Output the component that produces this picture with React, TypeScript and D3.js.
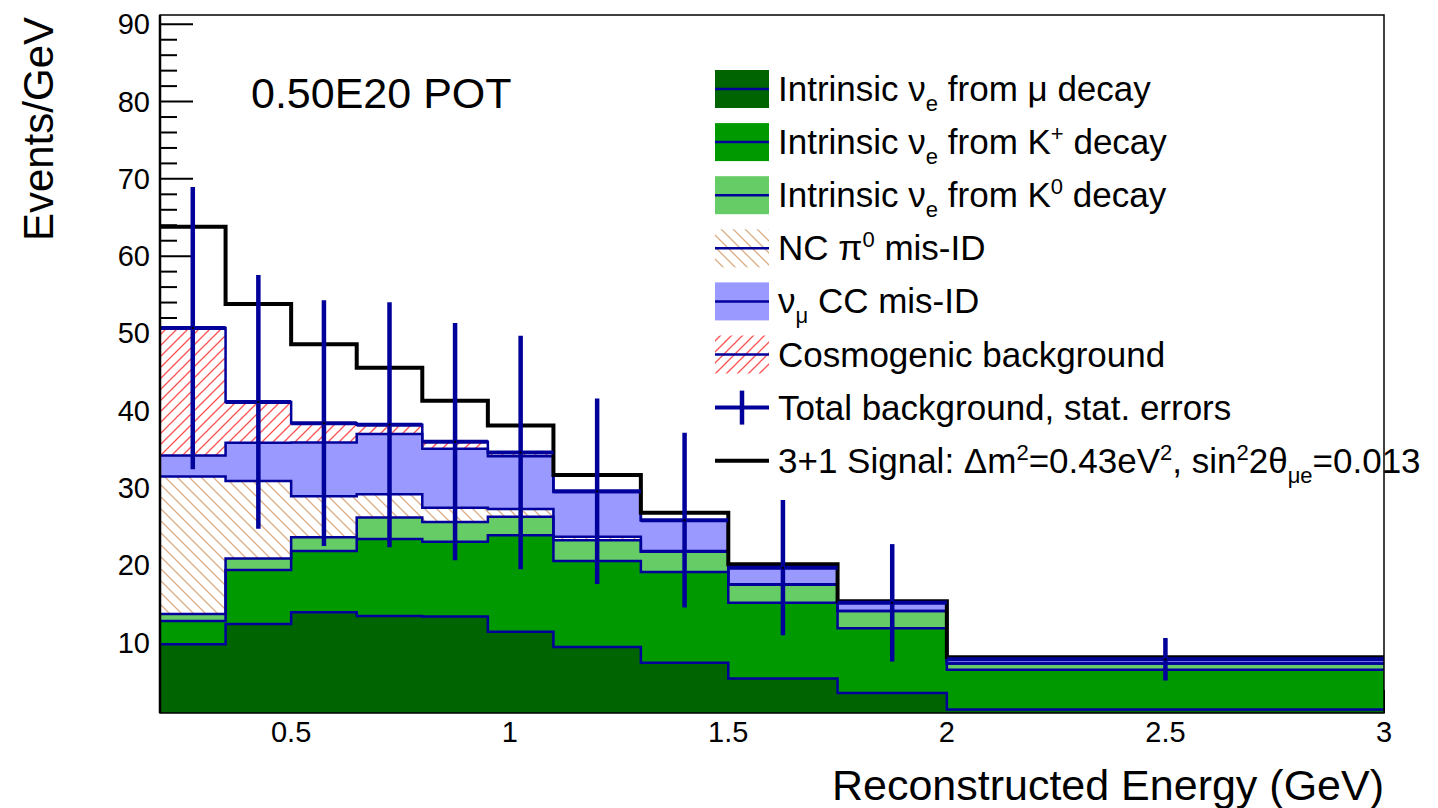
import * as d3 from "d3";

// bin edges in GeV and per-component rates (events/GeV)
const binEdges = [0.2, 0.35, 0.5, 0.65, 0.8, 0.95, 1.1, 1.3, 1.5, 1.75, 2.0, 3.0];
const muDecay = [9.8, 12.4, 13.95, 13.45, 13.4, 11.4, 9.45, 7.4, 5.35, 3.5, 1.35];
const kPlusDecay = [3.0, 7.0, 7.9, 9.95, 9.65, 12.5, 11.1, 11.75, 9.8, 8.35, 5.15];
const kZeroDecay = [0.9, 1.5, 1.8, 2.8, 2.55, 2.4, 2.7, 2.6, 2.35, 2.25, 0.8];
const ncPi0 = [17.8, 10.0, 5.3, 3.0, 1.85, 1.0, 0.45, 0.1, 0.05, 0, 0];
const numuCC = [2.7, 4.95, 6.95, 7.8, 7.65, 6.8, 5.8, 4.0, 2.15, 1.05, 0.55];
const cosmogenic = [16.5, 5.3, 2.5, 1.2, 0.9, 0.5, 0.1, 0, 0, 0, 0];
const signalTotal = [63.8, 53.8, 48.6, 45.55, 41.3, 38.1, 31.7, 26.8, 20.15, 15.35, 8.1];
const statErrors = [18.25, 16.4, 15.9, 15.85, 15.35, 15.1, 12.0, 11.3, 8.75, 7.6, 2.75];

const xTicks = [0.5, 1, 1.5, 2, 2.5, 3];
const yTicks = [10, 20, 30, 40, 50, 60, 70, 80, 90];

const layers = [
  { key: "mu", values: muDecay, fill: "#006400", hatch: null },
  { key: "kplus", values: kPlusDecay, fill: "#009a00", hatch: null },
  { key: "kzero", values: kZeroDecay, fill: "#66cc66", hatch: null },
  { key: "nc", values: ncPi0, fill: "#ffffff", hatch: "url(#hatchBrown)" },
  { key: "numu", values: numuCC, fill: "#9999ff", hatch: null },
  { key: "cosmo", values: cosmogenic, fill: "#ffffff", hatch: "url(#hatchRed)" },
];

const navy = "#00009a";
const font = "'Liberation Sans', Arial, Helvetica, sans-serif";

const x = d3.scaleLinear().domain([0.2, 3.0]).range([160, 1384]);
const y = d3.scaleLinear().domain([0.9, 91.2]).range([713, 15]);

const nBins = binEdges.length - 1;
const rows = d3.range(nBins).map((i) => {
  const r: any = {};
  layers.forEach((l) => (r[l.key] = l.values[i]));
  return r;
});
const stacked = d3.stack().keys(layers.map((l) => l.key))(rows);
const totals = rows.map((_, i) => stacked[stacked.length - 1][i][1]);

// repeat last bin so step curves reach the last edge
const ext = (a: number[]) => [...a, a[a.length - 1]];

const band = d3
  .area<number>()
  .curve(d3.curveStepAfter)
  .x((_, i) => x(binEdges[i]));

const stepLine = d3
  .line<number>()
  .curve(d3.curveStepAfter)
  .x((_, i) => x(binEdges[i]))
  .y((d) => y(d));

// label pieces: plain strings, or [text, "sub" | "sup"]
const legendRows = [
  { kind: "box", fill: "#006400", label: ["Intrinsic ν", ["e", "sub"], " from μ decay"] },
  { kind: "box", fill: "#009a00", label: ["Intrinsic ν", ["e", "sub"], " from K", ["+", "sup"], " decay"] },
  { kind: "box", fill: "#66cc66", label: ["Intrinsic ν", ["e", "sub"], " from K", ["0", "sup"], " decay"] },
  { kind: "hatch", fill: "url(#hatchBrown)", label: ["NC π", ["0", "sup"], " mis-ID"] },
  { kind: "box", fill: "#9999ff", label: ["ν", ["μ", "sub"], " CC mis-ID"] },
  { kind: "hatch", fill: "url(#hatchRed)", label: ["Cosmogenic background"] },
  { kind: "err", fill: "", label: ["Total background, stat. errors"] },
  {
    kind: "sig",
    fill: "",
    label: ["3+1 Signal: Δm", ["2", "sup"], "=0.43eV", ["2", "sup"], ", sin", ["2", "sup"], "2θ", ["μe", "sub"], "=0.013"],
  },
];

const renderLabel = (parts: any[]) => {
  let shift = 0;
  return parts.map((p, i) => {
    const isScript = typeof p !== "string";
    const target = isScript ? (p[1] === "sub" ? 10 : -13) : 0;
    const dy = target - shift;
    shift = target;
    return (
      <tspan key={i} dy={dy || undefined} fontSize={isScript ? 22 : undefined}>
        {isScript ? p[0] : p}
      </tspan>
    );
  });
};

const App = () => {
  const minorTicks = d3.range(2, 91, 2);
  return (
    <svg
      width={1438}
      height={808}
      style={{ position: "absolute", left: 0, top: 0, background: "#fff" }}
      fontFamily={font}
    >
      <defs>
        <pattern id="hatchRed" patternUnits="userSpaceOnUse" width={11} height={11}>
          <path d="M0,11 L11,0 M-2,2 L2,-2 M9,13 L13,9" stroke="#ff5050" strokeWidth={1.3} />
        </pattern>
        <pattern id="hatchBrown" patternUnits="userSpaceOnUse" width={12} height={12}>
          <path d="M0,0 L12,12 M-2,10 L2,14 M10,-2 L14,2" stroke="#dcac84" strokeWidth={1.3} />
        </pattern>
      </defs>
      <rect x={0} y={0} width={1438} height={808} fill="#fff" />

      {/* axis ticks sit underneath the stacked fills */}
      {minorTicks.map((t) => (
        <line
          key={t}
          x1={160}
          x2={t % 10 === 0 ? 193 : 177}
          y1={y(t)}
          y2={y(t)}
          stroke="#000"
          strokeWidth={2}
        />
      ))}
      {xTicks.map((t) => (
        <line key={t} x1={x(t)} x2={x(t)} y1={713} y2={690} stroke="#000" strokeWidth={2} />
      ))}

      {/* stacked bands */}
      {stacked.map((s, li) => {
        const lo = ext(s.map((d) => d[0]));
        const hi = ext(s.map((d) => d[1]));
        const a = band.y0((_, i) => y(Math.max(lo[i], 0.9))).y1((_, i) => y(hi[i]));
        const d = a(hi) as string;
        const l = layers[li];
        return (
          <g key={l.key}>
            <path d={d} fill={l.fill} />
            {l.hatch && <path d={d} fill={l.hatch} />}
          </g>
        );
      })}
      {stacked.map((s, li) => (
        <path
          key={"o" + li}
          d={stepLine(ext(s.map((d) => d[1]))) as string}
          fill="none"
          stroke={navy}
          strokeWidth={2.5}
        />
      ))}

      {/* 3+1 signal */}
      <path d={stepLine(ext(signalTotal)) as string} fill="none" stroke="#000" strokeWidth={4} />

      {/* total background with stat errors */}
      {totals.map((t, i) => {
        const cx = x((binEdges[i] + binEdges[i + 1]) / 2);
        return (
          <g key={"e" + i}>
            <line x1={x(binEdges[i])} x2={x(binEdges[i + 1])} y1={y(t)} y2={y(t)} stroke={navy} strokeWidth={4} />
            <line x1={cx} x2={cx} y1={y(t - statErrors[i])} y2={y(t + statErrors[i])} stroke={navy} strokeWidth={4.5} />
            <circle cx={cx} cy={y(t)} r={1.2} fill="#000" />
          </g>
        );
      })}

      {/* frame */}
      <rect x={160} y={15} width={1224} height={698} fill="none" stroke="#000" strokeWidth={1.5} />
      <line x1={160} x2={160} y1={15} y2={713} stroke="#000" strokeWidth={2.5} />

      {yTicks.map((t) => (
        <text key={t} x={150} y={y(t) + 10} textAnchor="end" fontSize={29}>
          {t}
        </text>
      ))}
      {xTicks.map((t) => (
        <text key={t} x={x(t)} y={742} textAnchor="middle" fontSize={29}>
          {t}
        </text>
      ))}

      <text x={1384} y={800} textAnchor="end" fontSize={43}>
        Reconstructed Energy (GeV)
      </text>
      <text transform="translate(53,17) rotate(-90)" textAnchor="end" fontSize={42}>
        Events/GeV
      </text>
      <text x={251} y={108} fontSize={43}>
        0.50E20 POT
      </text>

      {/* legend */}
      {legendRows.map((r, i) => {
        const cy = 89 + i * 53.1;
        return (
          <g key={"l" + i}>
            {(r.kind === "box" || r.kind === "hatch") && (
              <>
                <rect x={715} y={cy - 19} width={54} height={38} fill={r.fill} />
                <line x1={715} x2={769} y1={cy} y2={cy} stroke={navy} strokeWidth={2.5} />
              </>
            )}
            {r.kind === "err" && (
              <g stroke={navy}>
                <line x1={715} x2={769} y1={cy} y2={cy} strokeWidth={4} />
                <line x1={742} x2={742} y1={cy - 17} y2={cy + 17} strokeWidth={4.5} />
              </g>
            )}
            {r.kind === "sig" && <line x1={715} x2={769} y1={cy} y2={cy} stroke="#000" strokeWidth={4} />}
            <text x={778} y={cy + 12} fontSize={35}>
              {renderLabel(r.label)}
            </text>
          </g>
        );
      })}
    </svg>
  );
};

export default App;
